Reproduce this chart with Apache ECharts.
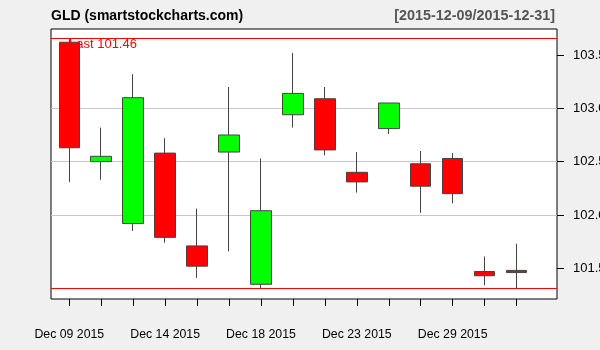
<!DOCTYPE html>
<html>
<head>
<meta charset="utf-8">
<script src="https://cdn.jsdelivr.net/npm/echarts@6/dist/echarts.min.js"></script>
<style>
html,body{margin:0;padding:0;background:#f0f0f0;}
#chart{width:600px;height:350px;}
</style>
</head>
<body>
<div id="chart"></div>
<script>
// ---- data ----
const dates = ["Dec 09 2015","Dec 10 2015","Dec 11 2015","Dec 14 2015","Dec 15 2015","Dec 16 2015","Dec 18 2015","Dec 21 2015","Dec 22 2015","Dec 23 2015","Dec 24 2015","Dec 28 2015","Dec 29 2015","Dec 30 2015","Dec 31 2015"];
const opens  = [103.62,102.50,101.92,102.58,101.71,102.59,101.35,102.94,103.09,102.40,102.81,102.48,102.53,101.47,101.48];
const closes = [102.63,102.55,103.10,101.79,101.52,102.75,102.04,103.14,102.61,102.31,103.05,102.27,102.20,101.43,101.46];
const lows   = [102.31,102.33,101.85,101.74,101.41,101.66,101.31,102.82,102.56,102.21,102.76,102.02,102.11,101.34,101.31];
const highs  = [103.66,102.82,103.32,102.72,102.06,103.20,102.53,103.52,103.20,102.59,103.05,102.60,102.58,101.61,101.73];
const yTicks = [101.5,102.0,102.5,103.0,103.5];
const titleLeft = "GLD (smartstockcharts.com)";
const titleRight = "[2015-12-09/2015-12-31]";

const yMin = 101.212, yMax = 103.744;
const candleData = dates.map((d,i)=>[opens[i],closes[i],lows[i],highs[i]]);
const maxHigh = Math.max(...highs);
const minLow = Math.min(...lows);
const lastClose = closes[closes.length-1];

const FONT = "'Liberation Sans', Arial, sans-serif";
const chart = echarts.init(document.getElementById('chart'), null, {renderer:'canvas'});
chart.setOption({
  backgroundColor:'#f0f0f0',
  animation:false,
  title:[
    {text:titleLeft, left:51, top:9, padding:0,
     textStyle:{fontFamily:FONT, fontSize:14, fontWeight:'bold', color:'#000'}},
    {text:titleRight, right:45, top:9, padding:0,
     textStyle:{fontFamily:FONT, fontSize:14.4, fontWeight:'bold', color:'#555'}}
  ],
  grid:[
    {left:51, top:29, width:506, height:270, show:true, backgroundColor:'#fff', borderColor:'#000', borderWidth:1,
     containLabel:false, outerBoundsMode:'none'},
    {left:53.3, top:29, width:479.25, height:270, show:false, containLabel:false, outerBoundsMode:'none'}
  ],
  xAxis:[
    {type:'value', gridIndex:0, min:0, max:1, show:false},
    {type:'category', gridIndex:1, data:dates, boundaryGap:true, position:'bottom',
     axisLine:{show:false, onZero:false},
     axisTick:{show:true, alignWithLabel:true, interval:0, length:7, lineStyle:{color:'#000'}},
     axisLabel:{interval:2, margin:30, fontFamily:FONT, fontSize:12.3, color:'#000'},
     splitLine:{show:false}}
  ],
  yAxis:[
    {type:'value', gridIndex:0, min:yMin, max:yMax, position:'right',
     axisLine:{show:false, onZero:false},
     axisTick:{show:true, length:7, customValues:yTicks, lineStyle:{color:'#000'}},
     axisLabel:{margin:16, customValues:yTicks, fontFamily:FONT, fontSize:13, color:'#000',
                formatter:v=>v.toFixed(1)},
     splitLine:{show:true, showMinLine:false, showMaxLine:false, lineStyle:{color:'#c8c8c8', width:1}}},
    {type:'value', gridIndex:1, min:yMin, max:yMax, show:false, splitLine:{show:false}}
  ],
  series:[
    {type:'line', xAxisIndex:0, yAxisIndex:0, data:[], silent:true,
     markLine:{silent:true, symbol:'none', label:{show:false},
       lineStyle:{color:'#ff0000', width:1, type:'solid'},
       data:[{yAxis:maxHigh},{yAxis:minLow}]}},
    {type:'candlestick', xAxisIndex:1, yAxisIndex:1, data:candleData, barWidth:21,
     itemStyle:{color:'#00ff00', color0:'#ff0000', borderColor:'#444', borderColor0:'#444', borderWidth:1}}
  ],
  graphic:[
    {type:'text', left:69, top:38, z:100, silent:true,
     style:{text:'Last ' + lastClose.toFixed(2), fill:'#ff0000', fontFamily:FONT, fontSize:13}}
  ]
});
</script>
</body>
</html>
